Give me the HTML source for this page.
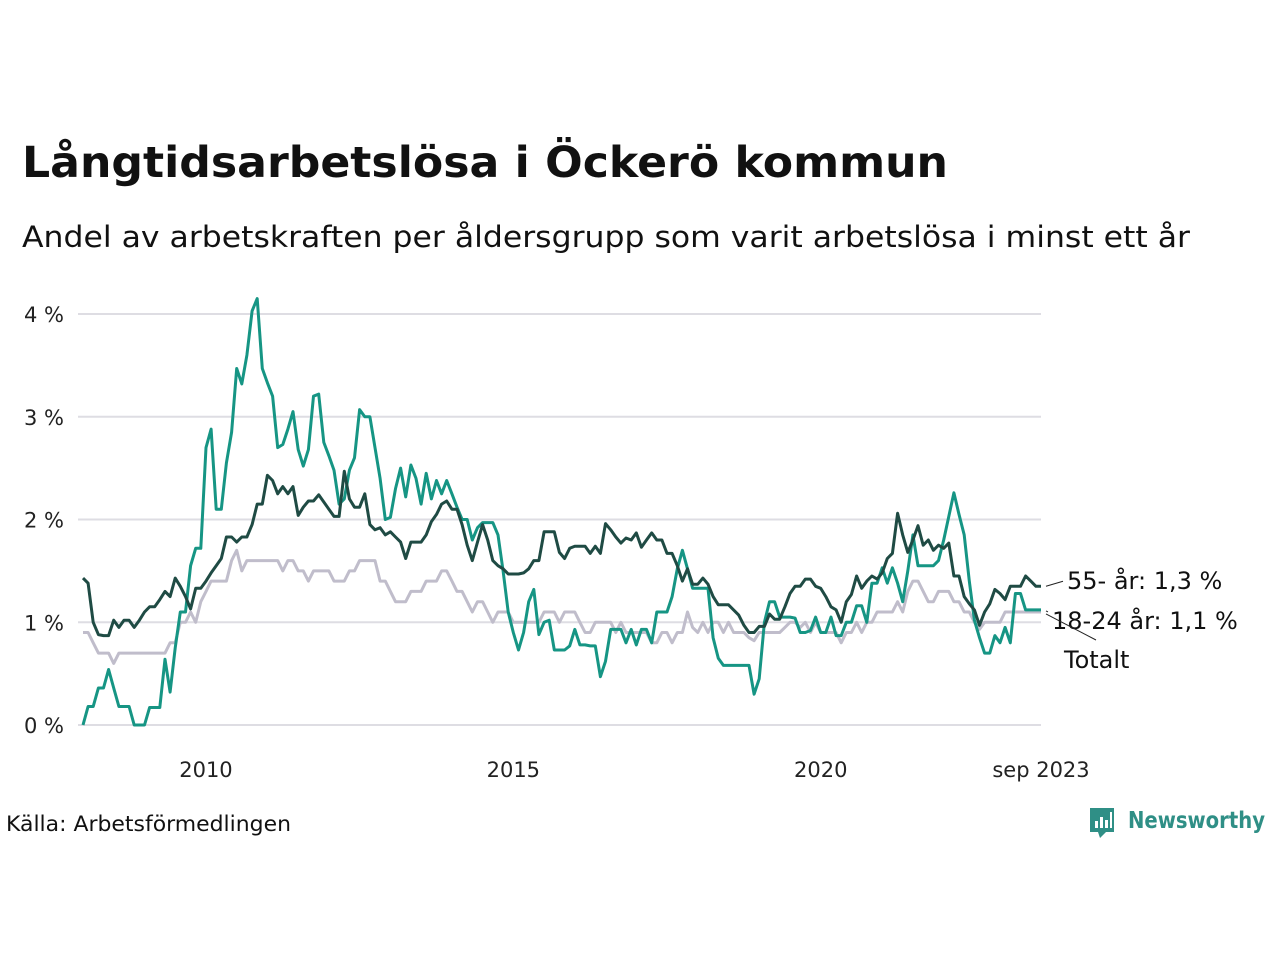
<!DOCTYPE html>
<html><head><meta charset="utf-8">
<style>
body{margin:0;background:#fff;width:1280px;height:960px;overflow:hidden;font-family:"DejaVu Sans","Liberation Sans",sans-serif;}
svg{position:absolute;left:0;top:0;font-family:"DejaVu Sans","Liberation Sans",sans-serif}
</style></head>
<body>
<svg id="chart" width="1280" height="960">
<text x="22" y="177" font-size="43" font-weight="bold" fill="#111" textLength="926" lengthAdjust="spacingAndGlyphs">Långtidsarbetslösa i Öckerö kommun</text>
<text x="22" y="247" font-size="29" fill="#111" textLength="1168" lengthAdjust="spacingAndGlyphs">Andel av arbetskraften per åldersgrupp som varit arbetslösa i minst ett år</text>
<text x="6" y="831" font-size="21" fill="#111" textLength="285" lengthAdjust="spacingAndGlyphs">Källa: Arbetsförmedlingen</text>
<g>
<path d="M1090 808 h24 v24 h-8 l-6 6 l-2 -6 h-8 z" fill="#2f8f86"/>
<rect x="1095" y="821" width="3" height="7" fill="#fff"/><rect x="1100" y="817" width="3" height="11" fill="#fff"/><rect x="1105" y="820" width="3" height="8" fill="#fff"/><rect x="1110" y="812" width="2" height="16" fill="#fff"/>
<text x="1128" y="828" font-size="23" font-weight="bold" fill="#2f8f86" textLength="137" lengthAdjust="spacingAndGlyphs">Newsworthy</text>
</g>
<g id="grid"></g><g id="lines"></g>
</svg>
<script>
const yTicks=[0,1,2,3,4];
const xTickLabels=["2010","2015","2020","sep 2023"];
const xTickIdx=[24,84,144,187];
const youth=[0,0.18,0.18,0.36,0.36,0.54,0.36,0.18,0.18,0.18,0,0,
0,0.17,0.17,0.17,0.64,0.32,0.75,1.1,1.1,1.55,1.72,1.72,
2.7,2.88,2.1,2.1,2.55,2.85,3.47,3.32,3.6,4.03,4.15,3.47,
3.33,3.2,2.7,2.73,2.88,3.05,2.68,2.52,2.68,3.2,3.22,2.75,
2.62,2.48,2.15,2.2,2.48,2.6,3.07,3.0,3.0,2.7,2.4,2.0,
2.02,2.3,2.5,2.22,2.53,2.4,2.15,2.45,2.2,2.38,2.25,2.38,
2.25,2.12,2.0,2.0,1.8,1.92,1.97,1.97,1.97,1.85,1.5,1.1,
0.9,0.73,0.9,1.2,1.32,0.88,1.0,1.02,0.73,0.73,0.73,0.77,
0.93,0.78,0.78,0.77,0.77,0.47,0.62,0.93,0.93,0.93,0.8,0.93,
0.78,0.93,0.93,0.8,1.1,1.1,1.1,1.25,1.52,1.7,1.52,1.33,
1.33,1.33,1.33,0.85,0.65,0.58,0.58,0.58,0.58,0.58,0.58,0.3,
0.45,1.0,1.2,1.2,1.05,1.05,1.05,1.04,0.9,0.9,0.92,1.05,
0.9,0.9,1.05,0.87,0.87,1.0,1.0,1.16,1.16,1.0,1.38,1.38,
1.53,1.38,1.53,1.38,1.2,1.5,1.85,1.55,1.55,1.55,1.55,1.6,
1.8,2.03,2.26,2.05,1.85,1.4,1.02,0.85,0.7,0.7,0.87,0.8,
0.95,0.8,1.28,1.28,1.12,1.12,1.12,1.12];
const older=[1.43,1.38,1.0,0.88,0.87,0.87,1.02,0.95,1.02,1.02,0.95,1.02,
1.1,1.15,1.15,1.22,1.3,1.25,1.43,1.35,1.25,1.13,1.33,1.33,
1.4,1.48,1.55,1.62,1.83,1.83,1.78,1.83,1.83,1.95,2.15,2.15,
2.43,2.38,2.25,2.32,2.25,2.32,2.04,2.12,2.18,2.18,2.24,2.17,
2.1,2.03,2.03,2.47,2.2,2.12,2.12,2.25,1.95,1.9,1.92,1.85,
1.88,1.83,1.78,1.62,1.78,1.78,1.78,1.85,1.98,2.05,2.15,2.18,
2.1,2.1,1.95,1.75,1.6,1.78,1.95,1.8,1.6,1.55,1.52,1.47,
1.47,1.47,1.48,1.52,1.6,1.6,1.88,1.88,1.88,1.68,1.62,1.72,
1.74,1.74,1.74,1.67,1.74,1.67,1.96,1.9,1.83,1.77,1.82,1.8,
1.87,1.73,1.8,1.87,1.8,1.8,1.67,1.67,1.55,1.4,1.52,1.37,
1.37,1.43,1.37,1.25,1.17,1.17,1.17,1.12,1.07,0.97,0.9,0.9,
0.96,0.96,1.08,1.03,1.03,1.15,1.28,1.35,1.35,1.42,1.42,1.35,
1.33,1.25,1.15,1.12,1.0,1.2,1.27,1.45,1.33,1.4,1.45,1.42,
1.48,1.62,1.67,2.06,1.85,1.68,1.8,1.94,1.75,1.8,1.7,1.75,
1.72,1.77,1.45,1.45,1.25,1.18,1.12,0.97,1.1,1.18,1.32,1.28,
1.22,1.35,1.35,1.35,1.45,1.4,1.35,1.35];
const total=[0.9,0.9,0.8,0.7,0.7,0.7,0.6,0.7,0.7,0.7,0.7,0.7,
0.7,0.7,0.7,0.7,0.7,0.8,0.8,1.0,1.0,1.1,1.0,1.2,
1.3,1.4,1.4,1.4,1.4,1.6,1.7,1.5,1.6,1.6,1.6,1.6,
1.6,1.6,1.6,1.5,1.6,1.6,1.5,1.5,1.4,1.5,1.5,1.5,
1.5,1.4,1.4,1.4,1.5,1.5,1.6,1.6,1.6,1.6,1.4,1.4,
1.3,1.2,1.2,1.2,1.3,1.3,1.3,1.4,1.4,1.4,1.5,1.5,
1.4,1.3,1.3,1.2,1.1,1.2,1.2,1.1,1.0,1.1,1.1,1.1,
1.0,1.0,1.0,1.0,1.0,1.0,1.1,1.1,1.1,1.0,1.1,1.1,
1.1,1.0,0.9,0.9,1.0,1.0,1.0,1.0,0.9,1.0,0.9,0.9,
0.9,0.9,0.9,0.8,0.8,0.9,0.9,0.8,0.9,0.9,1.1,0.95,
0.9,1.0,0.9,1.0,1.0,0.9,1.0,0.9,0.9,0.9,0.85,0.82,
0.9,0.9,0.9,0.9,0.9,0.95,1.0,1.0,0.95,1.0,0.9,1.0,
0.9,0.9,0.9,0.9,0.8,0.9,0.9,1.0,0.9,1.0,1.0,1.1,
1.1,1.1,1.1,1.2,1.1,1.3,1.4,1.4,1.3,1.2,1.2,1.3,
1.3,1.3,1.2,1.2,1.1,1.1,1.0,0.93,1.0,1.0,1.0,1.0,
1.1,1.1,1.1,1.1,1.1,1.1,1.1,1.1];

const NS='http://www.w3.org/2000/svg';
const N=youth.length;
const x0=83,x1=1041,y0=725,pxPer=102.75;
function xs(i){return x0+(x1-x0)*i/(N-1);}
function ys(v){return y0-v*pxPer;}
const grid=document.getElementById('grid');
yTicks.forEach(t=>{
  const l=document.createElementNS(NS,'line');
  l.setAttribute('x1',78);l.setAttribute('x2',1041);
  l.setAttribute('y1',ys(t));l.setAttribute('y2',ys(t));
  l.setAttribute('stroke','#dedde3');l.setAttribute('stroke-width','2');
  
  
  grid.appendChild(l);
  const tx=document.createElementNS(NS,'text');
  tx.setAttribute('x',64);tx.setAttribute('y',ys(t)+8);
  tx.setAttribute('text-anchor','end');tx.setAttribute('font-size','21');tx.setAttribute('fill','#222');
  tx.textContent=t+' %';
  
  
  grid.appendChild(tx);
});
xTickLabels.forEach((s,k)=>{
  const tx=document.createElementNS(NS,'text');
  tx.setAttribute('x',xs(xTickIdx[k]));tx.setAttribute('y',777);
  tx.setAttribute('text-anchor','middle');tx.setAttribute('font-size','21');tx.setAttribute('fill','#222');
  tx.textContent=s;
  
  
  grid.appendChild(tx);
});
const lines=document.getElementById('lines');
function draw(arr,color,name){
  const p=document.createElementNS(NS,'polyline');
  p.setAttribute('points',arr.map((v,i)=>xs(i).toFixed(1)+','+ys(v).toFixed(1)).join(' '));
  p.setAttribute('fill','none');p.setAttribute('stroke',color);p.setAttribute('stroke-width','3');
  p.setAttribute('stroke-linejoin','round');
  
  
  lines.appendChild(p);
}
draw(total,'#c0bdcb','line-totalt');
draw(youth,'#169584','line-18-24');
draw(older,'#1f4b44','line-55');
function label(txt,x,y,lx,ly,name){
  const l=document.createElementNS(NS,'line');
  l.setAttribute('x1',lx[0]);l.setAttribute('y1',ly[0]);l.setAttribute('x2',lx[1]);l.setAttribute('y2',ly[1]);
  l.setAttribute('stroke','#222');l.setAttribute('stroke-width','1');
  
  
  lines.appendChild(l);
  const t=document.createElementNS(NS,'text');
  t.setAttribute('x',x);t.setAttribute('y',y);t.setAttribute('font-size','24');t.setAttribute('fill','#111');
  t.textContent=txt;
  
  
  lines.appendChild(t);
}
const last=N-1;
label('55- år: 1,3 %',1067,589,[1046,1063],[ys(older[last]),ys(older[last])-5],'label-55');
label('18-24 år: 1,1 %',1052,629,[1046,1048],[ys(youth[last])+1,ys(youth[last])+2],'label-18-24');
label('Totalt',1064,668,[1046,1096],[ys(total[last])+2,640],'label-totalt');
</script>
</body></html>
